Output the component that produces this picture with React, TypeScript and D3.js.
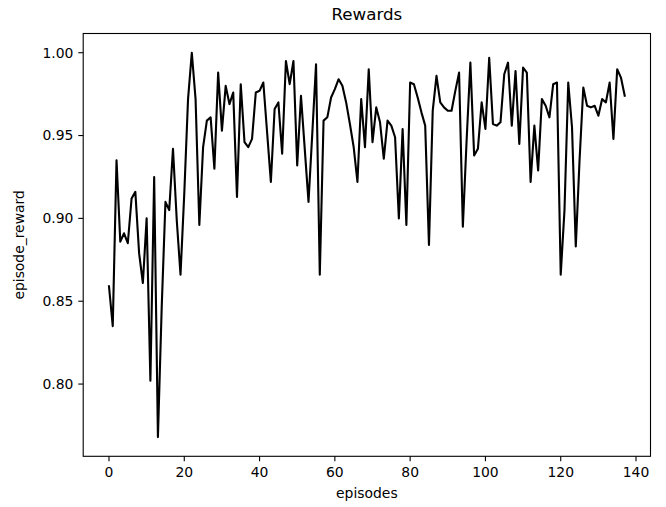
import React from 'react';
import * as d3 from 'd3';

// episode rewards, one per episode (0..137)
const rewards = [
  0.859, 0.835, 0.935, 0.886, 0.891, 0.885, 0.912, 0.916, 0.879, 0.861,
  0.900, 0.802, 0.925, 0.768, 0.846, 0.910, 0.905, 0.942, 0.899, 0.866,
  0.915, 0.972, 1.000, 0.972, 0.896, 0.943, 0.959, 0.961, 0.930, 0.988,
  0.953, 0.980, 0.969, 0.976, 0.913, 0.981, 0.946, 0.943, 0.948, 0.976,
  0.977, 0.982, 0.952, 0.922, 0.966, 0.970, 0.939, 0.995, 0.981, 0.995,
  0.932, 0.974, 0.942, 0.910, 0.951, 0.993, 0.866, 0.959, 0.961, 0.973,
  0.978, 0.984, 0.980, 0.970, 0.957, 0.943, 0.922, 0.972, 0.943, 0.990,
  0.946, 0.967, 0.958, 0.936, 0.959, 0.956, 0.949, 0.900, 0.954, 0.896,
  0.982, 0.981, 0.973, 0.964, 0.956, 0.884, 0.965, 0.986, 0.970, 0.967,
  0.965, 0.965, 0.977, 0.988, 0.895, 0.947, 0.994, 0.938, 0.942, 0.970,
  0.954, 0.997, 0.957, 0.956, 0.958, 0.987, 0.994, 0.956, 0.989, 0.945,
  0.991, 0.988, 0.922, 0.956, 0.929, 0.972, 0.968, 0.961, 0.981, 0.982,
  0.866, 0.905, 0.982, 0.955, 0.883, 0.935, 0.979, 0.968, 0.967, 0.968,
  0.962, 0.972, 0.970, 0.982, 0.948, 0.990, 0.985, 0.974,
];

const xTicks = [0, 20, 40, 60, 80, 100, 120, 140];
const yTicks = [0.8, 0.85, 0.9, 0.95, 1.0];

const title = 'Rewards';
const xLabel = 'episodes';
const yLabel = 'episode_reward';

const W = 666;
const H = 507;
const left = 83.2;
const right = 650.5;
const top = 33.5;
const bottom = 456.3;

const font = 'DejaVu Sans, sans-serif';

export default function App() {
  const n = rewards.length;
  const xPad = (n - 1) * 0.05;
  const [ymin, ymax] = d3.extent(rewards) as [number, number];
  const yPad = (ymax - ymin) * 0.05;

  const x = d3.scaleLinear().domain([-xPad, n - 1 + xPad]).range([left, right]);
  const y = d3.scaleLinear().domain([ymin - yPad, ymax + yPad]).range([bottom, top]);

  const line = d3
    .line<number>()
    .x((d, i) => x(i))
    .y(d => y(d));

  const tickLen = 4.9;

  return (
    <svg
      width={W}
      height={H}
      style={{ position: 'absolute', left: 0, top: 0, background: '#fff' }}
      fontFamily={font}
    >
      <rect x={0} y={0} width={W} height={H} fill="#fff" />

      <path d={line(rewards) || ''} fill="none" stroke="#000" strokeWidth={2.1} strokeLinejoin="round" strokeLinecap="square" />

      {/* frame */}
      <rect x={left} y={top} width={right - left} height={bottom - top} fill="none" stroke="#000" strokeWidth={1.1} />

      {/* x ticks */}
      {xTicks.map(t => (
        <g key={'x' + t} transform={`translate(${x(t)},0)`}>
          <line y1={bottom} y2={bottom + tickLen} stroke="#000" strokeWidth={1.1} />
          <text y={bottom + 21} textAnchor="middle" fontSize={13.9} fill="#000">
            {t}
          </text>
        </g>
      ))}

      {/* y ticks */}
      {yTicks.map(t => (
        <g key={'y' + t} transform={`translate(0,${y(t)})`}>
          <line x1={left - tickLen} x2={left} stroke="#000" strokeWidth={1.1} />
          <text x={left - tickLen - 4.9} dy="0.35em" textAnchor="end" fontSize={13.9} fill="#000">
            {d3.format('.2f')(t)}
          </text>
        </g>
      ))}

      <text x={(left + right) / 2} y={20} textAnchor="middle" fontSize={16.7} fill="#000">
        {title}
      </text>
      <text x={(left + right) / 2} y={498} textAnchor="middle" fontSize={13.9} fill="#000">
        {xLabel}
      </text>
      <text
        transform={`translate(24,${(top + bottom) / 2}) rotate(-90)`}
        textAnchor="middle"
        fontSize={13.9}
        fill="#000"
      >
        {yLabel}
      </text>
    </svg>
  );
}
